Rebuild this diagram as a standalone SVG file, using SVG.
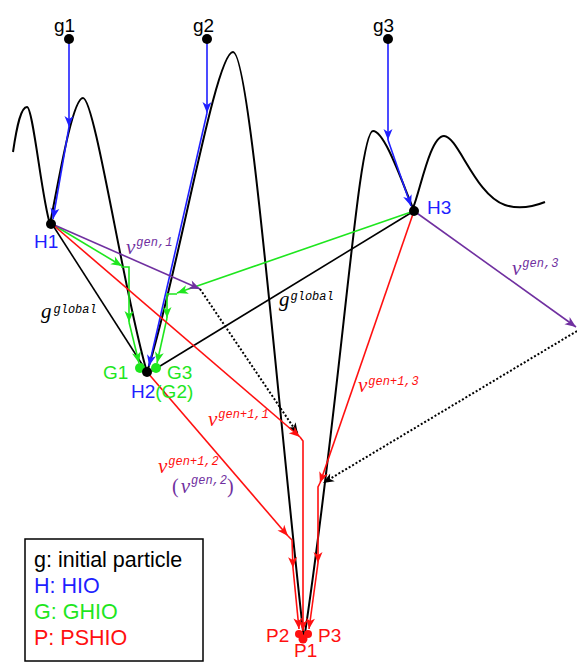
<svg xmlns="http://www.w3.org/2000/svg" width="577" height="662" viewBox="0 0 577 662">
<style>
.lbl{font-family:"Liberation Sans",Arial,sans-serif;font-size:19px}
.v{font-family:"Liberation Serif","Times New Roman",serif;font-style:italic;font-size:21px}
.sup{font-family:"Liberation Mono","Courier New",monospace;font-style:italic;font-size:12px}
.par{font-family:"Liberation Serif","Times New Roman",serif;font-size:20px}
.blue{fill:#1f1fff}.green{fill:#1ee61e}.red{fill:#ff1010}.purple{fill:#7030a0}.black{fill:#000}
.sb{stroke:#1f1fff;stroke-width:1.6;fill:none}
.sg{stroke:#1ee61e;stroke-width:1.6;fill:none}
.sr{stroke:#ff1010;stroke-width:1.6;fill:none}
.sp{stroke:#7030a0;stroke-width:1.6;fill:none}
.sk{stroke:#000;stroke-width:1.6;fill:none}
.dot{stroke:#000;stroke-width:2;stroke-dasharray:2 2;fill:none}
.leg{font-family:"Liberation Sans",Arial,sans-serif;font-size:21.5px}
</style>
<defs>
<marker id="mb" viewBox="-12 -6 13 12" refX="0" refY="0" markerWidth="13" markerHeight="12" markerUnits="userSpaceOnUse" orient="auto"><path d="M0,0 L-11,-4.5 L-8,0 L-11,4.5 Z" fill="#1f1fff"/></marker>
<marker id="mg" viewBox="-12 -6 13 12" refX="0" refY="0" markerWidth="13" markerHeight="12" markerUnits="userSpaceOnUse" orient="auto"><path d="M0,0 L-11,-4.5 L-8,0 L-11,4.5 Z" fill="#1ee61e"/></marker>
<marker id="mr" viewBox="-12 -6 13 12" refX="0" refY="0" markerWidth="13" markerHeight="12" markerUnits="userSpaceOnUse" orient="auto"><path d="M0,0 L-11,-4.5 L-8,0 L-11,4.5 Z" fill="#ff1010"/></marker>
<marker id="mp" viewBox="-12 -6 13 12" refX="0" refY="0" markerWidth="13" markerHeight="12" markerUnits="userSpaceOnUse" orient="auto"><path d="M0,0 L-11,-4.5 L-8,0 L-11,4.5 Z" fill="#7030a0"/></marker>
<marker id="mk" viewBox="-12 -6 13 12" refX="0" refY="0" markerWidth="13" markerHeight="12" markerUnits="userSpaceOnUse" orient="auto"><path d="M0,0 L-11,-4.5 L-8,0 L-11,4.5 Z" fill="#000"/></marker>
</defs>
<rect width="577" height="662" fill="#fff"/>
<g id="landscape">
<path d="M13,152 C17,125 21,107 27,107 C33,107 42,200 50,224 C57,190 72,98 83,98 C95,98 125,300 147,372 C177,280 215,52 233,52 C250,52 277,400 304,640 C342,385 358,131 373,131 C385,131 403,185 413,208 C420,192 430,136 444,136 C458,136 475,195 505,205 C520,210 535,206 545,202" stroke="#000" stroke-width="2" fill="none"/>
</g>
<g id="connectors">
<path class="sk" d="M52,224 L147,372"/>
<path class="sk" d="M414,211 L152,371"/>
<path class="sb" d="M69,39 L69,127" marker-end="url(#mb)"/>
<path class="sb" d="M69,127 L53,219" marker-end="url(#mb)"/>
<path class="sb" d="M207,39 L207,113" marker-end="url(#mb)"/>
<path class="sb" d="M207,113 L149,366" marker-end="url(#mb)"/>
<path class="sb" d="M388,39 L388,140" marker-end="url(#mb)"/>
<path class="sb" d="M388,140 L411,206" marker-end="url(#mb)"/>
<path class="sg" d="M52,224 L122,266" marker-end="url(#mg)"/>
<path class="sg" d="M121,267 L129,267 L129,322" marker-end="url(#mg)"/>
<path class="sg" d="M129,322 L139,363" marker-end="url(#mg)"/>
<path class="sg" d="M414,211 L177,293" marker-end="url(#mg)"/>
<path class="sg" d="M177,294 L167,294 L167,318" marker-end="url(#mg)"/>
<path class="sg" d="M167,318 L157,363" marker-end="url(#mg)"/>
<path class="sp" d="M52,224 L200,289" marker-end="url(#mp)"/>
<path class="sp" d="M414,211 L576,327" marker-end="url(#mp)"/>
<path class="dot" d="M200,289 L298,434" marker-end="url(#mk)"/>
<path class="dot" d="M577,331 L323,483" marker-end="url(#mk)"/>
<path class="sr" d="M52,224 L300,437" marker-end="url(#mr)"/>
<path class="sr" d="M300,437 L303,441 L303,631" marker-end="url(#mr)"/>
<path class="sr" d="M147,372 L288,536" marker-end="url(#mr)"/>
<path class="sr" d="M288,536 L292,540 L293,568" marker-end="url(#mr)"/>
<path class="sr" d="M293,568 L299,629" marker-end="url(#mr)"/>
<path class="sr" d="M414,211 L320,483" marker-end="url(#mr)"/>
<path class="sr" d="M320,483 L318,487 L318,563" marker-end="url(#mr)"/>
<path class="sr" d="M318,563 L309,629" marker-end="url(#mr)"/>
</g>
<g id="g1"><circle cx="69" cy="39" r="5" class="black"/><text class="lbl black" x="54" y="32">g1</text></g>
<g id="g2"><circle cx="207" cy="39" r="5" class="black"/><text class="lbl black" x="193" y="32">g2</text></g>
<g id="g3"><circle cx="388" cy="39" r="5" class="black"/><text class="lbl black" x="373" y="32">g3</text></g>
<g id="H1"><circle cx="51" cy="224" r="5" class="black"/><text class="lbl blue" x="34" y="248">H1</text></g>
<g id="H3"><circle cx="414" cy="211" r="5" class="black"/><text class="lbl blue" x="427" y="214">H3</text></g>
<g id="G1"><circle cx="140" cy="368" r="5" class="green"/><text class="lbl green" x="103" y="379">G1</text></g>
<g id="G3"><circle cx="156" cy="368" r="5" class="green"/><text class="lbl green" x="167" y="379">G3</text></g>
<g id="H2"><circle cx="147" cy="372" r="5" class="black"/><text class="lbl" x="131" y="398"><tspan class="blue">H2</tspan><tspan class="green">(G2)</tspan></text></g>
<g id="P2"><circle cx="299" cy="634" r="4" class="red"/><text class="lbl red" x="266" y="642">P2</text></g>
<g id="P3"><circle cx="308" cy="634" r="4" class="red"/><text class="lbl red" x="318" y="642">P3</text></g>
<g id="P1"><circle cx="303" cy="639" r="4.5" class="red"/><text class="lbl red" x="294" y="657">P1</text></g>
<g id="labels">
<text class="purple" x="126" y="254"><tspan class="v">v</tspan><tspan class="sup" dx="1" dy="-8">gen,1</tspan></text>
<text class="purple" x="512" y="275"><tspan class="v">v</tspan><tspan class="sup" dx="1" dy="-8">gen,3</tspan></text>
<text class="black" x="41" y="318"><tspan class="v">g</tspan><tspan class="sup" dx="2" dy="-5">global</tspan></text>
<text class="black" x="279" y="306"><tspan class="v">g</tspan><tspan class="sup" dx="1" dy="-6">global</tspan></text>
<text class="red" x="208" y="426"><tspan class="v">v</tspan><tspan class="sup" dx="1" dy="-8">gen+1,1</tspan></text>
<text class="red" x="158" y="473"><tspan class="v">v</tspan><tspan class="sup" dx="1" dy="-8">gen+1,2</tspan></text>
<text class="purple" x="172" y="493"><tspan class="par">(</tspan><tspan class="v" dx="2">v</tspan><tspan class="sup" dx="1" dy="-9">gen,2</tspan><tspan class="par" dy="9">)</tspan></text>
<text class="red" x="358" y="392"><tspan class="v">v</tspan><tspan class="sup" dx="1" dy="-7">gen+1,3</tspan></text>
</g>
<g id="legend">
<rect x="25" y="539" width="178" height="122" fill="#fff" stroke="#000" stroke-width="1.5"/>
<text class="leg black" x="34" y="567">g: initial particle</text>
<text class="leg blue" x="34" y="593">H: HIO</text>
<text class="leg green" x="34" y="619">G: GHIO</text>
<text class="leg red" x="34" y="645">P: PSHIO</text>
</g>
</svg>
